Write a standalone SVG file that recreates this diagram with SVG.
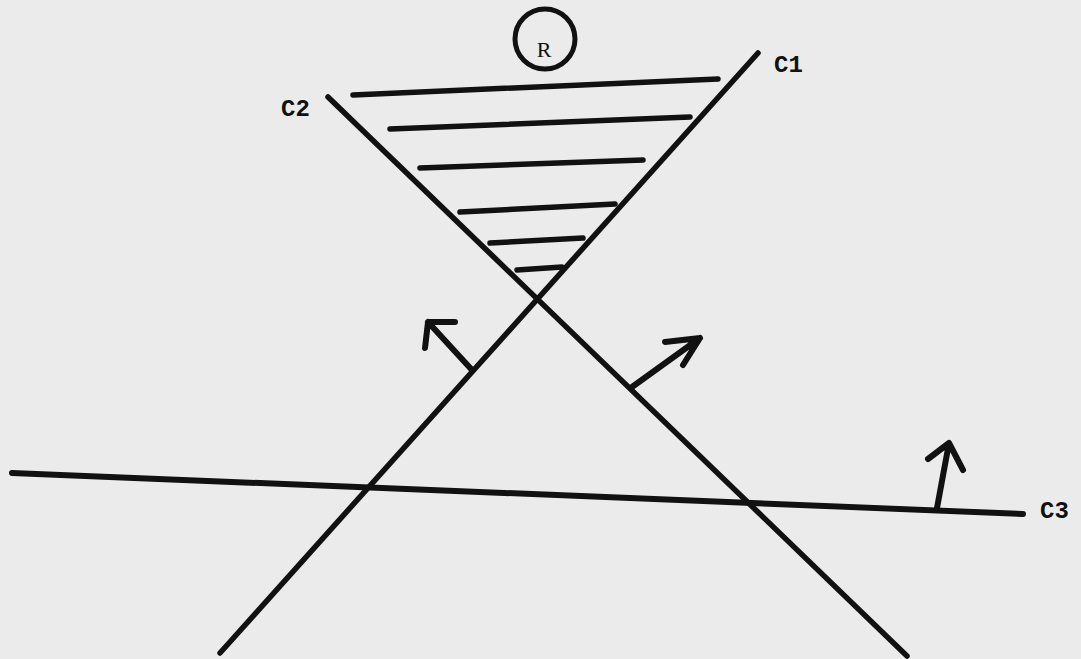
<svg xmlns="http://www.w3.org/2000/svg" width="1081" height="659" viewBox="0 0 1081 659">
<style>
.ln{stroke:#111;stroke-width:5.5;stroke-linecap:round;fill:none}
.hatch{stroke:#111;stroke-width:5.5;stroke-linecap:round;fill:none}
.arr{stroke:#111;stroke-width:6;stroke-linecap:round;stroke-linejoin:round;fill:none}
.lbl{font-family:"Liberation Mono",monospace;font-size:24px;fill:#111;font-weight:bold}
</style>
<rect width="1081" height="659" fill="#ebebeb"/>
<g id="R">
<circle cx="545" cy="39" r="30" fill="none" stroke="#111" stroke-width="5"/>
<text x="544" y="57" text-anchor="middle" font-family="Liberation Serif, serif" font-size="22" fill="#111">R</text>
</g>
<g id="hatching">
<line class="hatch" x1="353" y1="95" x2="718" y2="79"/>
<line class="hatch" x1="390" y1="129" x2="690" y2="117"/>
<line class="hatch" x1="420" y1="168" x2="643" y2="160"/>
<line class="hatch" x1="460" y1="212" x2="615" y2="204"/>
<line class="hatch" x1="490" y1="243" x2="583" y2="238"/>
<line class="hatch" x1="517" y1="270" x2="562" y2="267"/>
</g>
<g id="C1">
<line class="ln" x1="758" y1="53" x2="220" y2="653"/>
<text class="lbl" x="774" y="72">C1</text>
</g>
<g id="C2">
<line class="ln" x1="328" y1="97" x2="907" y2="656"/>
<text class="lbl" x="281" y="116">C2</text>
</g>
<g id="C3">
<line class="ln" x1="12" y1="473" x2="1023" y2="514" style="stroke-width:6"/>
<text class="lbl" x="1040" y="518">C3</text>
</g>
<g id="connectors">
<path class="arr" d="M472,370 L428,322 M425,348 L428,322 L455,322"/>
<path class="arr" d="M632,387 L700,338 M665,342 L700,338 L683,365"/>
<path class="arr" d="M937,508 L949,443 M928,459 L949,443 L963,470"/>
</g>
</svg>
